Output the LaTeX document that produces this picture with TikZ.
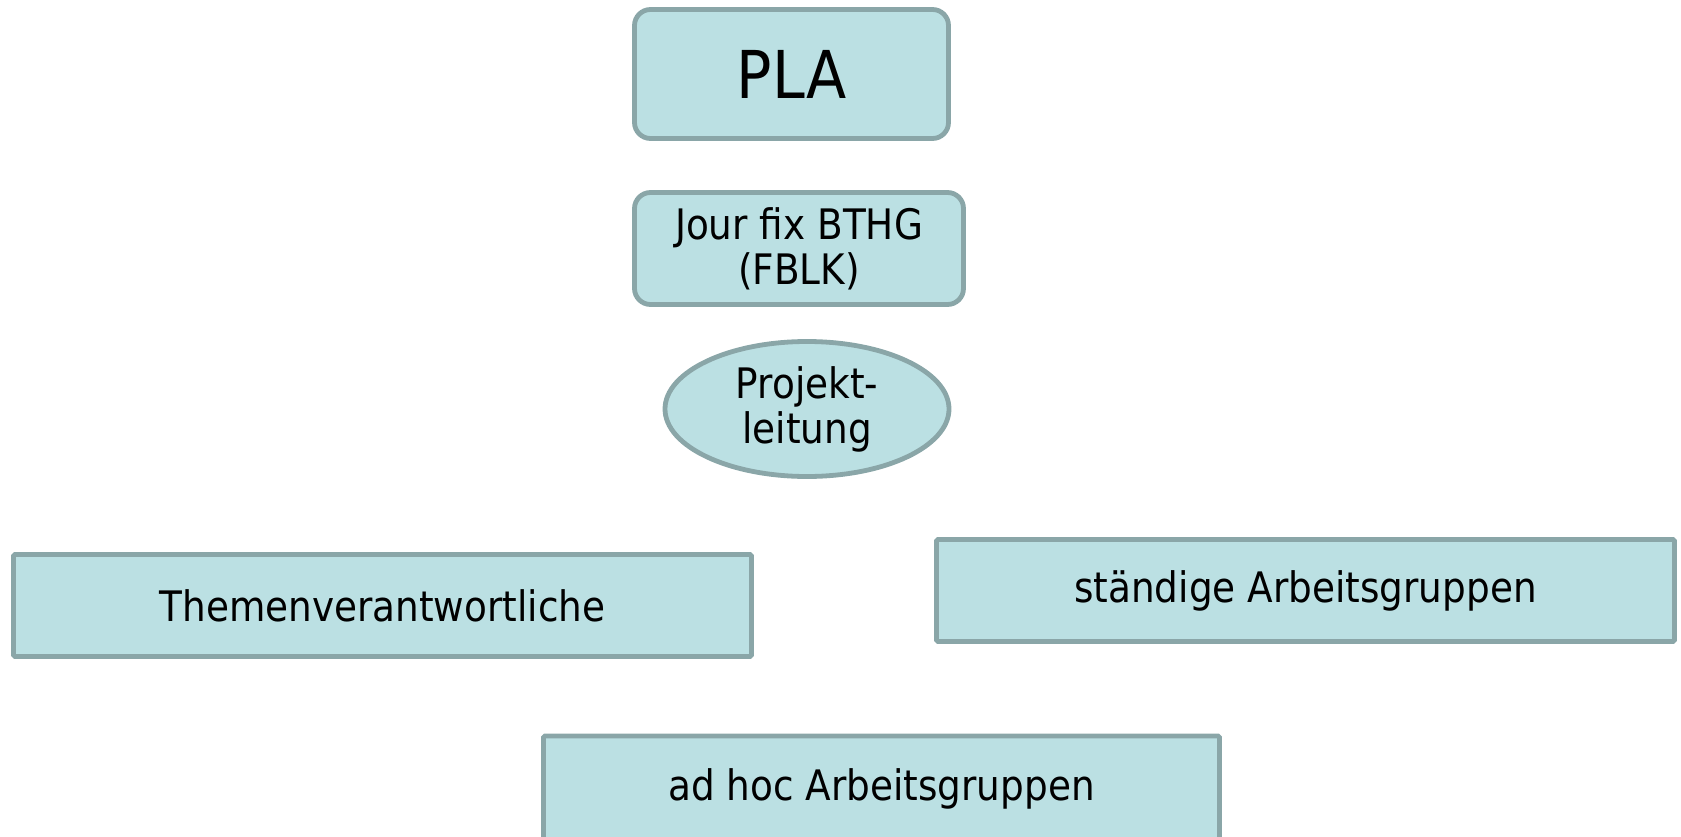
\documentclass[tikz,border=0pt]{standalone}
\usepackage{fontspec}
\setmainfont[FakeStretch=0.89]{DejaVu Sans}
\usetikzlibrary{shapes.geometric}
\definecolor{boxfill}{RGB}{187,224,227}
\definecolor{boxline}{RGB}{138,166,168}
\tikzset{
  base/.style={fill=boxfill, draw=boxline, line width=4.8pt, align=center, inner sep=0pt,
    font=\fontsize{42}{45}\selectfont},
  rbox/.style={base, rounded corners=16pt},
  sbox/.style={base, rounded corners=1.5pt},
  ell/.style={base, ellipse},
}
\begin{document}
\begin{tikzpicture}[x=1pt,y=-1pt]
\useasboundingbox (0,0) rectangle (1681,837);
\node[rbox, minimum width=314pt, minimum height=129pt, font=\fontsize{66}{70}\selectfont] (pla) at (791.5,74) {PLA};
\node[rbox, minimum width=329pt, minimum height=112pt] (jour) at (799,248.5) {Jour fix BTHG\\(FBLK)};
\node[ell, minimum width=284pt, minimum height=135pt] (pl) at (807,409) {Projekt-\\leitung};
\node[sbox, minimum width=738pt, minimum height=102pt] (them) at (382.5,605.5) {Themenverantwortliche};
\node[sbox, minimum width=738pt, minimum height=102pt] (staend) at (1305.5,590.5) {ständige Arbeitsgruppen};
\node[sbox, minimum width=676pt, minimum height=106pt] (adhoc) at (881.5,789) {ad hoc Arbeitsgruppen};
\end{tikzpicture}
\end{document}
